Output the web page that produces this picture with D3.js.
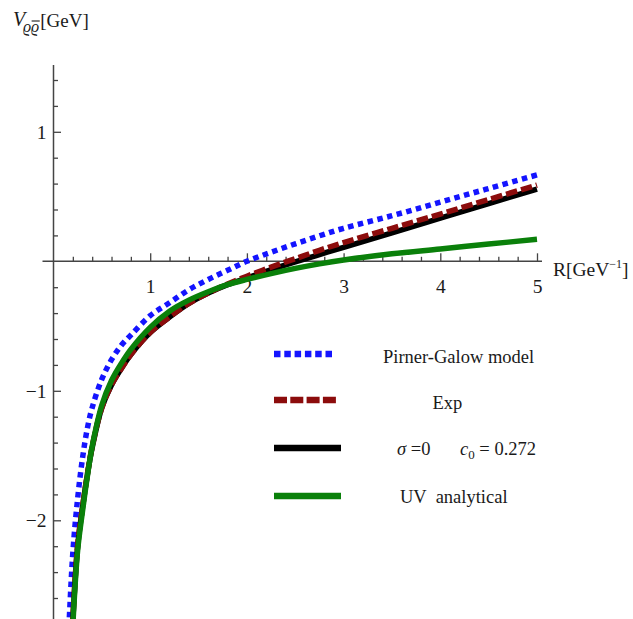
<!DOCTYPE html>
<html>
<head>
<meta charset="utf-8">
<script src="https://cdn.jsdelivr.net/npm/d3@7"></script>
<style>
  body { margin: 0; background: #fff; }
  text { font-family: "Liberation Serif", "Times New Roman", serif; }
</style>
</head>
<body>
<svg id="chart"></svg>
<script>
/* DATA */
const R      = [0.15, 0.2, 0.25, 0.3, 0.35, 0.4, 0.5, 0.6, 0.7, 0.8, 1.0, 1.2, 1.4, 1.6, 1.8, 2.0, 2.25, 2.5, 2.75, 3.0, 3.5, 4.0, 4.5, 5.0];
const pirner = [-2.98, -2.25, -1.83, -1.52, -1.29, -1.13, -0.91, -0.76, -0.65, -0.57, -0.42, -0.32, -0.22, -0.14, -0.07, 0.0, 0.07, 0.135, 0.197, 0.255, 0.352, 0.457, 0.562, 0.667];
const expV   = [-3.55, -2.76, -2.19, -1.90, -1.645, -1.43, -1.13, -0.955, -0.83, -0.72, -0.55, -0.43, -0.325, -0.245, -0.175, -0.115, -0.045, 0.02, 0.085, 0.145, 0.255, 0.365, 0.477, 0.589];
const sigma0 = [-3.55, -2.77, -2.20, -1.90, -1.65, -1.44, -1.13, -0.955, -0.83, -0.72, -0.55, -0.43, -0.325, -0.245, -0.18, -0.13, -0.065, -0.005, 0.052, 0.108, 0.22, 0.333, 0.446, 0.558];
const uv     = [-3.65, -2.81, -2.23, -1.93, -1.66, -1.43, -1.11, -0.92, -0.79, -0.68, -0.51, -0.385, -0.30, -0.235, -0.18, -0.14, -0.095, -0.055, -0.02, 0.01, 0.058, 0.095, 0.133, 0.17];

const xTicks = [1, 2, 3, 4, 5];
const yTicks = [-2, -1, 1];
const legendLabels = ["Pirner-Galow model", "Exp", "sigma", "UV  analytical"];

/* LAYOUT */
const width = 633, height = 619;

const svg = d3.select("#chart")
  .attr("width", width)
  .attr("height", height);

const x = d3.scaleLinear().domain([0, 5]).range([53.5, 537]);
const y = d3.scaleLinear().domain([0, 1]).range([261.3, 131.8]);
const yTop = 1.516, yBottom = -2.78;

// clip curves to the plot box
svg.append("clipPath").attr("id", "plot-clip")
  .append("rect")
  .attr("x", x(0)).attr("y", y(yTop))
  .attr("width", x(5.1) - x(0)).attr("height", y(yBottom) - y(yTop));

/* AXES */
const axisColor = "#444";

const xMinor = d3.range(1, 26).map(i => i / 5).filter(v => !xTicks.includes(v));
const yMinor = d3.range(-13, 8).map(i => i / 5).filter(v => !yTicks.includes(v) && v !== 0);

svg.append("g")
  .attr("transform", `translate(0, ${y(0)})`)
  .call(d3.axisBottom(x).tickValues(xMinor).tickSize(-4.5).tickFormat(""))
  .call(g => g.select(".domain").remove());

const xAxisGroup = svg.append("g")
  .attr("transform", `translate(0, ${y(0)})`)
  .call(d3.axisBottom(x).tickValues(xTicks).tickSize(-8).tickFormat(d3.format("d")))
  .call(g => g.select(".domain").remove());
xAxisGroup.selectAll("text")
  .attr("y", 31.5).attr("dy", null)
  .attr("font-size", 19.5);

svg.append("g")
  .attr("transform", `translate(${x(0)}, 0)`)
  .call(d3.axisLeft(y).tickValues(yMinor).tickSize(-4.5).tickFormat(""))
  .call(g => g.select(".domain").remove());

const yAxisGroup = svg.append("g")
  .attr("transform", `translate(${x(0)}, 0)`)
  .call(d3.axisLeft(y).tickValues(yTicks).tickSize(-7.5).tickPadding(7)
    .tickFormat(d => d < 0 ? "\u2212" + Math.abs(d) : d))
  .call(g => g.select(".domain").remove());
yAxisGroup.selectAll("text").attr("font-size", 19.5);

svg.selectAll(".tick line").attr("stroke", axisColor).attr("stroke-width", 1.3);
svg.selectAll(".tick text").attr("fill", "#1a1a1a").attr("font-family", "Liberation Serif");

// axis lines
svg.append("line")
  .attr("x1", 42.5).attr("x2", 542)
  .attr("y1", y(0)).attr("y2", y(0))
  .attr("stroke", axisColor).attr("stroke-width", 1.5);
svg.append("line")
  .attr("x1", x(0)).attr("x2", x(0))
  .attr("y1", y(yTop)).attr("y2", height)
  .attr("stroke", axisColor).attr("stroke-width", 1.5);

/* AXIS LABELS */
svg.append("text")
  .attr("x", 13).attr("y", 26)
  .attr("font-size", 20).attr("font-style", "italic").attr("fill", "#1a1a1a")
  .text("V");
const sub = svg.append("text")
  .attr("x", 23).attr("y", 32)
  .attr("font-size", 16).attr("font-style", "italic").attr("fill", "#1a1a1a")
  .text("\u03F1\u03F1");
const subBox = sub.node().getBBox();
const secondChar = sub.node().getExtentOfChar(1);
svg.append("line")
  .attr("x1", secondChar.x + 0.5).attr("x2", secondChar.x + secondChar.width + 0.5)
  .attr("y1", 21).attr("y2", 21)
  .attr("stroke", "#1a1a1a").attr("stroke-width", 1.1);
svg.append("text")
  .attr("x", subBox.x + subBox.width + 1).attr("y", 27)
  .attr("font-size", 19).attr("fill", "#1a1a1a")
  .text("[GeV]");

const xLab = svg.append("text")
  .attr("x", 553).attr("y", 276)
  .attr("font-size", 19.5).attr("fill", "#1a1a1a");
xLab.append("tspan").text("R[GeV");
xLab.append("tspan").attr("font-size", 12).attr("dy", -8).text("\u22121");
xLab.append("tspan").attr("dy", 8).text("]");

/* CURVES */
const series = [
  { values: pirner, color: "#1414ff", dash: "5.5,4.5" },
  { values: sigma0, color: "#000000", dash: null },
  { values: expV,   color: "#8c0c0c", dash: "11.5,4" },
  { values: uv,     color: "#0a800a", dash: null }
];

const lineGen = d3.line()
  .x(d => x(d[0]))
  .y(d => y(d[1]))
  .curve(d3.curveCatmullRom.alpha(0.5));

svg.append("g")
  .attr("clip-path", "url(#plot-clip)")
  .selectAll("path")
  .data(series)
  .join("path")
  .attr("fill", "none")
  .attr("stroke", d => d.color)
  .attr("stroke-width", 5.5)
  .attr("stroke-dasharray", d => d.dash)
  .attr("d", d => lineGen(R.map((r, i) => [r, d.values[i]])));

/* LEGEND */
const legendY = [354, 400, 448, 496];
const legendX2 = [333, 337, 341, 341];
const legendSeries = [series[0], series[2], series[1], series[3]];

svg.append("g")
  .selectAll("line")
  .data(legendSeries)
  .join("line")
  .attr("x1", 274)
  .attr("x2", (d, i) => legendX2[i])
  .attr("y1", (d, i) => legendY[i])
  .attr("y2", (d, i) => legendY[i])
  .attr("stroke", d => d.color)
  .attr("stroke-width", 6.5)
  .attr("stroke-dasharray", (d, i) => i === 0 ? "6.5,3.8" : i === 1 ? "13,3.3" : null);

const legendText = svg.append("g").attr("font-size", 18.5).attr("fill", "#1a1a1a");
legendText.append("text").attr("x", 383).attr("y", 363).text(legendLabels[0]);
legendText.append("text").attr("x", 432.5).attr("y", 409).text(legendLabels[1]);

const sig = legendText.append("text").attr("x", 397).attr("y", 455);
sig.append("tspan").attr("font-style", "italic").text("\u03C3");
sig.append("tspan").text(" =0");
const c0 = legendText.append("text").attr("x", 460).attr("y", 455);
c0.append("tspan").attr("font-style", "italic").text("c");
c0.append("tspan").attr("font-size", 13).attr("dy", 4).text("0");
c0.append("tspan").attr("dy", -4).text(" = 0.272");

legendText.append("text").attr("x", 400).attr("y", 503)
  .attr("xml:space", "preserve").style("white-space", "pre")
  .text(legendLabels[3]);
</script>
</body>
</html>
